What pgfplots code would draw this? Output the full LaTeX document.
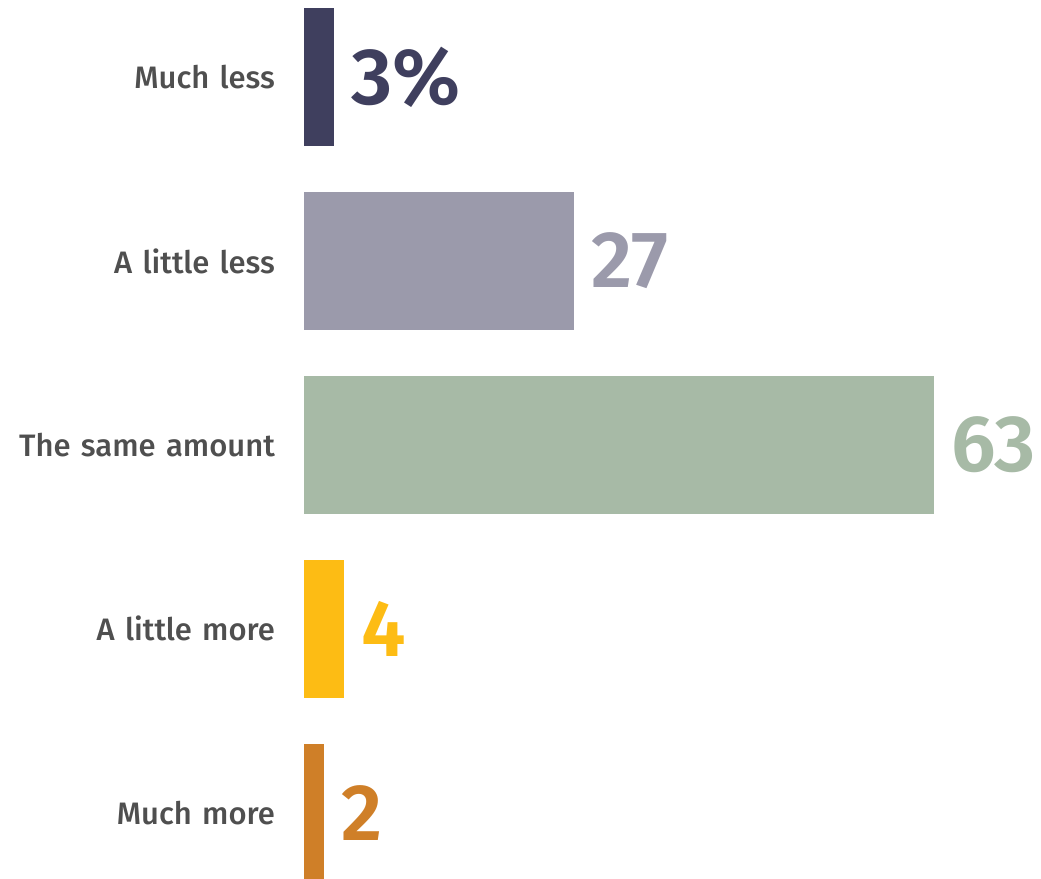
\documentclass[border=0pt]{standalone}
\usepackage{pgfplots}
\pgfplotsset{compat=1.18}
\usepackage{fontspec}
\setmainfont{Fira Sans}
\newfontfamily\medfont{Fira Sans Medium}
\newfontfamily\semifont{Fira Sans SemiBold}
\definecolor{cNavy}{HTML}{3F3F5E}
\definecolor{cLav}{HTML}{9B9AAB}
\definecolor{cSage}{HTML}{A7BAA6}
\definecolor{cYel}{HTML}{FDBC14}
\definecolor{cOra}{HTML}{CF7F28}
\definecolor{cText}{HTML}{4F4F4F}
\begin{document}
\begin{tikzpicture}
\begin{axis}[
  scale only axis,
  width=737pt, height=879pt,
  xbar, bar width=0.75,
  xmin=0, xmax=73.7,
  ymin=-0.4185, ymax=4.3587,
  y dir=reverse,
  ytick={0,1,2,3,4},
  yticklabels={Much less,A little less,The same amount,A little more,Much more},
  yticklabel style={font=\medfont\fontsize{31}{34}\selectfont, text=cText, inner sep=0pt, text width=275pt, align=right, anchor=east, xshift=-29pt},
  xtick=\empty,
  axis line style={draw=none},
  major tick length=0pt,
  /pgf/number format/assume math mode=true,
  every axis plot/.append style={bar shift=0pt, draw=none},
  nodes near coords,
  nodes near coords style={font=\semifont\fontsize{80}{80}\selectfont, anchor=west, inner sep=0pt, xshift=17pt},
]
\addplot[fill=cNavy, nodes near coords={\pgfmathprintnumber\pgfplotspointmeta\%}, nodes near coords style={text=cNavy}] coordinates {(3,0)};
\addplot[fill=cLav, nodes near coords style={text=cLav}] coordinates {(27,1)};
\addplot[fill=cSage, nodes near coords style={text=cSage}] coordinates {(63,2)};
\addplot[fill=cYel, nodes near coords style={text=cYel}] coordinates {(4,3)};
\addplot[fill=cOra, nodes near coords style={text=cOra}] coordinates {(2,4)};
\end{axis}
\end{tikzpicture}
\end{document}
